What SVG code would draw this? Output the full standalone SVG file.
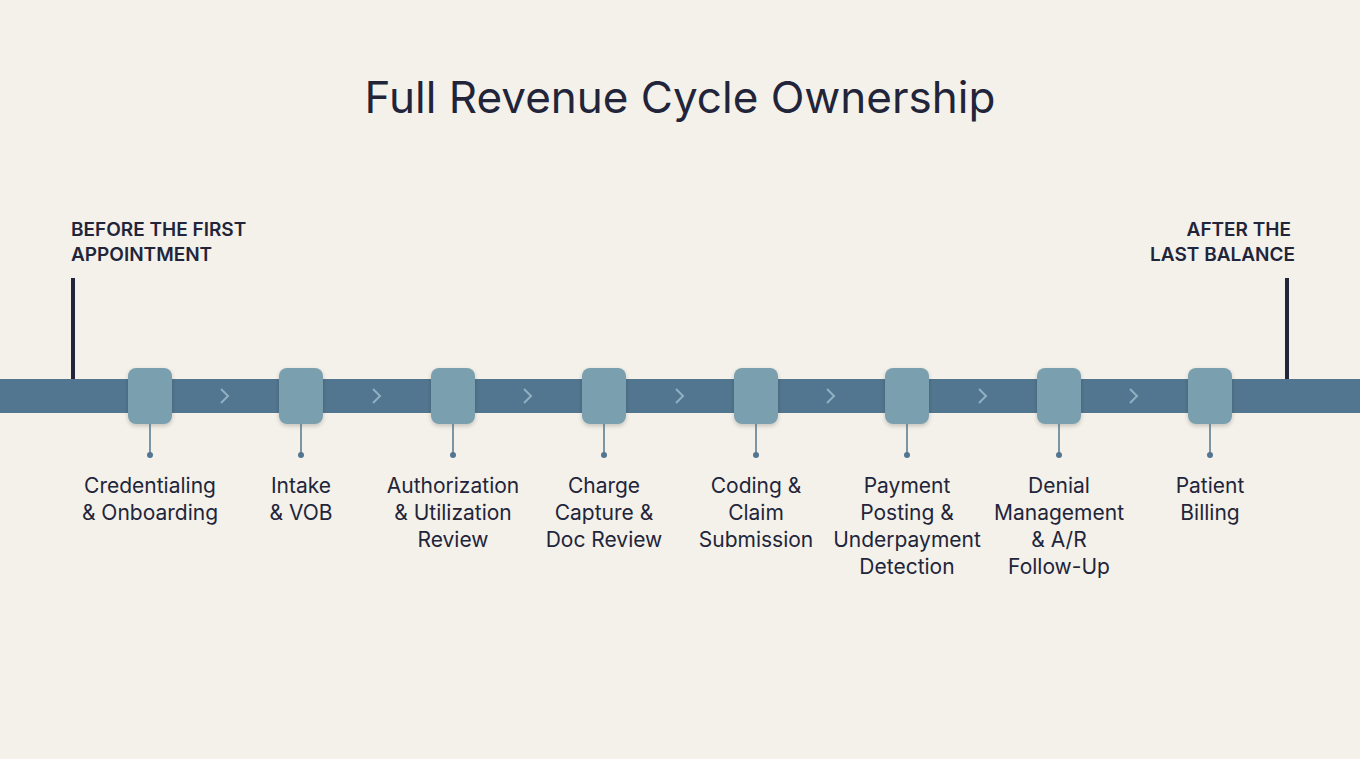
<svg xmlns="http://www.w3.org/2000/svg" width="1360" height="759" viewBox="0 0 1360 759">
<defs>
<style>
.lbl{font-family:Inter,"Liberation Sans",sans-serif;font-size:21px;fill:#22253a;text-anchor:middle}
.side{font-family:Inter,"Liberation Sans",sans-serif;font-size:19px;font-weight:600;fill:#22253a}
.node{fill:#7a9fae;filter:url(#sh)}
.stem{stroke:#52768f;stroke-width:1.5}
.dot{fill:#52768f}
.chev{fill:none;stroke:#8fb0c2;stroke-width:2}
</style>
<filter id="sh" x="-30%" y="-30%" width="160%" height="160%"><feDropShadow dx="0" dy="2" stdDeviation="2" flood-color="#000" flood-opacity="0.2"/></filter>
</defs>
<rect width="1360" height="759" fill="#f4f1ea"/>
<text x="680" y="113" text-anchor="middle" font-family="Inter,'Liberation Sans',sans-serif" font-size="44" fill="#22253a">Full Revenue Cycle Ownership</text>
<text class="side" x="71" y="236">BEFORE THE FIRST</text>
<text class="side" x="71" y="261">APPOINTMENT</text>
<text class="side" x="1291" y="236" text-anchor="end">AFTER THE</text>
<text class="side" x="1295" y="261" text-anchor="end">LAST BALANCE</text>
<g id="connectors">
<rect x="0" y="379" width="1360" height="34" fill="#52768f"/>
<rect x="71" y="278" width="4" height="101" fill="#22253a"/>
<rect x="1285" y="278" width="4" height="101" fill="#22253a"/>
<path class="chev" d="M221 389l7 7-7 7M373 389l7 7-7 7M524 389l7 7-7 7M676 389l7 7-7 7M827 389l7 7-7 7M979 389l7 7-7 7M1130 389l7 7-7 7"/>
</g>
<g id="n1"><rect class="node" x="128" y="368" width="44" height="56" rx="8"/><line class="stem" x1="150" y1="424" x2="150" y2="455"/><circle class="dot" cx="150" cy="455" r="3"/><text class="lbl" x="150" y="493">Credentialing</text><text class="lbl" x="150" y="520">&amp; Onboarding</text></g>
<g id="n2"><rect class="node" x="279" y="368" width="44" height="56" rx="8"/><line class="stem" x1="301" y1="424" x2="301" y2="455"/><circle class="dot" cx="301" cy="455" r="3"/><text class="lbl" x="301" y="493">Intake</text><text class="lbl" x="301" y="520">&amp; VOB</text></g>
<g id="n3"><rect class="node" x="431" y="368" width="44" height="56" rx="8"/><line class="stem" x1="453" y1="424" x2="453" y2="455"/><circle class="dot" cx="453" cy="455" r="3"/><text class="lbl" x="453" y="493">Authorization</text><text class="lbl" x="453" y="520">&amp; Utilization</text><text class="lbl" x="453" y="547">Review</text></g>
<g id="n4"><rect class="node" x="582" y="368" width="44" height="56" rx="8"/><line class="stem" x1="604" y1="424" x2="604" y2="455"/><circle class="dot" cx="604" cy="455" r="3"/><text class="lbl" x="604" y="493">Charge</text><text class="lbl" x="604" y="520">Capture &amp;</text><text class="lbl" x="604" y="547">Doc Review</text></g>
<g id="n5"><rect class="node" x="734" y="368" width="44" height="56" rx="8"/><line class="stem" x1="756" y1="424" x2="756" y2="455"/><circle class="dot" cx="756" cy="455" r="3"/><text class="lbl" x="756" y="493">Coding &amp;</text><text class="lbl" x="756" y="520">Claim</text><text class="lbl" x="756" y="547">Submission</text></g>
<g id="n6"><rect class="node" x="885" y="368" width="44" height="56" rx="8"/><line class="stem" x1="907" y1="424" x2="907" y2="455"/><circle class="dot" cx="907" cy="455" r="3"/><text class="lbl" x="907" y="493">Payment</text><text class="lbl" x="907" y="520">Posting &amp;</text><text class="lbl" x="907" y="547">Underpayment</text><text class="lbl" x="907" y="574">Detection</text></g>
<g id="n7"><rect class="node" x="1037" y="368" width="44" height="56" rx="8"/><line class="stem" x1="1059" y1="424" x2="1059" y2="455"/><circle class="dot" cx="1059" cy="455" r="3"/><text class="lbl" x="1059" y="493">Denial</text><text class="lbl" x="1059" y="520">Management</text><text class="lbl" x="1059" y="547">&amp; A/R</text><text class="lbl" x="1059" y="574">Follow-Up</text></g>
<g id="n8"><rect class="node" x="1188" y="368" width="44" height="56" rx="8"/><line class="stem" x1="1210" y1="424" x2="1210" y2="455"/><circle class="dot" cx="1210" cy="455" r="3"/><text class="lbl" x="1210" y="493">Patient</text><text class="lbl" x="1210" y="520">Billing</text></g>
</svg>
